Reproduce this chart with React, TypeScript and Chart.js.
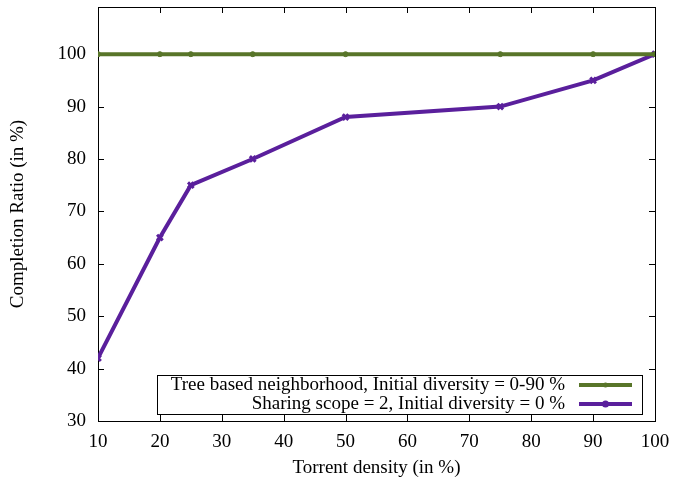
import React, { useEffect, useRef } from "react";
import { Chart, registerables } from "chart.js";

Chart.register(...registerables);

const xValues = [10, 20, 25, 35, 50, 75, 90, 100];
const treeValues = [100, 100, 100, 100, 100, 100, 100, 100];
const sharingValues = [42, 65, 75, 80, 88, 90, 95, 100];
const xTicks = [10, 20, 30, 40, 50, 60, 70, 80, 90, 100];
const yTicks = [30, 40, 50, 60, 70, 80, 90, 100];
const seriesLabels = [
  "Tree based neighborhood, Initial diversity = 0-90 %",
  "Sharing scope = 2, Initial diversity = 0 %",
];
const colors = ["#587529", "#5a1f9c"];
const FONT = "'Liberation Serif', 'DejaVu Serif', serif";
const FS = 19;

const framePlugin = {
  id: "frame",
  beforeDatasetsDraw(chart: any) {
    const { ctx, chartArea: a, scales } = chart;
    ctx.save();
    ctx.strokeStyle = "#000";
    ctx.lineWidth = 1;
    ctx.strokeRect(a.left + 0.5, a.top + 0.5, a.right - a.left, a.bottom - a.top);
    const t = 6;
    ctx.beginPath();
    xTicks.forEach((v) => {
      const x = Math.round(scales.x.getPixelForValue(v)) + 0.5;
      ctx.moveTo(x, a.bottom);
      ctx.lineTo(x, a.bottom - t);
      ctx.moveTo(x, a.top);
      ctx.lineTo(x, a.top + t);
    });
    yTicks.forEach((v) => {
      const y = Math.round(scales.y.getPixelForValue(v)) + 0.5;
      ctx.moveTo(a.left, y);
      ctx.lineTo(a.left + t, y);
      ctx.moveTo(a.right, y);
      ctx.lineTo(a.right - t, y);
    });
    ctx.stroke();
    ctx.restore();
  },
  afterDatasetsDraw(chart: any) {
    const { ctx } = chart;
    ctx.save();
    const bx = 157, by = 375, bw = 485, bh = 39;
    ctx.fillStyle = "#fff";
    ctx.fillRect(bx, by, bw, bh);
    ctx.strokeStyle = "#000";
    ctx.lineWidth = 1;
    ctx.strokeRect(bx + 0.5, by + 0.5, bw, bh);
    ctx.font = `${FS}px ${FONT}`;
    ctx.textAlign = "right";
    ctx.textBaseline = "middle";
    ctx.fillStyle = "#000";
    const ys = [385, 404];
    seriesLabels.forEach((lab, i) => {
      ctx.fillText(lab, 565, ys[i]);
      ctx.strokeStyle = colors[i];
      ctx.lineWidth = 4;
      ctx.beginPath();
      ctx.moveTo(579, ys[i]);
      ctx.lineTo(632, ys[i]);
      ctx.stroke();
      ctx.fillStyle = colors[i];
      ctx.beginPath();
      ctx.arc(605.5, ys[i], i === 0 ? 2.5 : 3.5, 0, Math.PI * 2);
      ctx.fill();
      ctx.fillStyle = "#000";
    });
    ctx.restore();
  },
};

export default function App() {
  const ref = useRef<HTMLCanvasElement>(null);
  useEffect(() => {
    document.body.style.margin = "0";
    const chart = new Chart(ref.current!, {
      type: "line",
      data: {
        datasets: [
          {
            label: seriesLabels[0],
            data: xValues.map((x, i) => ({ x, y: treeValues[i] })),
            borderColor: colors[0],
            backgroundColor: colors[0],
            borderWidth: 4,
            pointStyle: "circle",
            pointRadius: 2.5,
            pointBorderWidth: 1,
          },
          {
            label: seriesLabels[1],
            data: xValues.map((x, i) => ({ x, y: sharingValues[i] })),
            borderColor: colors[1],
            backgroundColor: colors[1],
            borderWidth: 4,
            pointStyle: "crossRot",
            pointRadius: 4,
            pointBorderWidth: 3,
          },
        ],
      },
      options: {
        responsive: false,
        animation: false,
        layout: { padding: { left: 0, right: 18, top: 7, bottom: 0 } },
        plugins: { legend: { display: false }, tooltip: { enabled: false } },
        scales: {
          x: {
            type: "linear",
            min: 10,
            max: 100,
            afterBuildTicks: (s: any) => {
              s.ticks = xTicks.map((v) => ({ value: v }));
            },
            afterFit: (s: any) => {
              s.height = 65;
              s.paddingLeft = 0;
              s.paddingRight = 0;
            },
            grid: { display: false, drawTicks: false },
            border: { display: false },
            ticks: { color: "#000", font: { family: FONT, size: FS }, padding: 10, maxRotation: 0 },
            title: {
              display: true,
              text: "Torrent density (in %)",
              color: "#000",
              font: { family: FONT, size: FS },
              padding: { top: 0, bottom: 7 },
            },
          },
          y: {
            type: "linear",
            min: 30,
            max: 109,
            afterBuildTicks: (s: any) => {
              s.ticks = yTicks.map((v) => ({ value: v }));
            },
            afterFit: (s: any) => {
              s.width = 98;
              s.paddingTop = 0;
              s.paddingBottom = 0;
            },
            grid: { display: false, drawTicks: false },
            border: { display: false },
            ticks: { color: "#000", font: { family: FONT, size: FS }, padding: 12 },
            title: {
              display: true,
              text: "Completion Ratio (in %)",
              color: "#000",
              font: { family: FONT, size: FS },
              padding: { top: 7, bottom: 0 },
            },
          },
        },
      },
      plugins: [framePlugin],
    } as any);
    return () => chart.destroy();
  }, []);
  return <canvas ref={ref} width={673} height={486} style={{ display: "block" }} />;
}
